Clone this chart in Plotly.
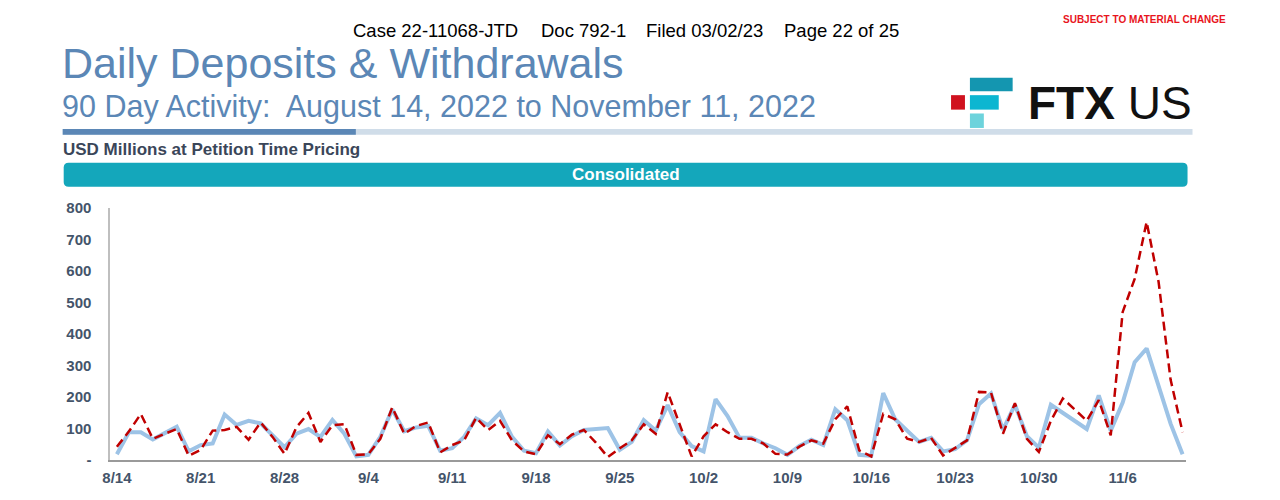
import pandas as pd
import plotly.graph_objects as go

# 90 days, 8/14/2022 .. 11/11/2022
dates = pd.date_range('2022-08-14', periods=90, freq='D')

deposits = [
    18, 88, 88, 65, 85, 105, 27, 47, 52, 144,
    111, 124, 116, 78, 40, 83, 98, 73, 127, 83,
    11, 16, 73, 160, 91, 103, 108, 29, 37, 73,
    132, 110, 149, 73, 29, 21, 90, 46, 75, 95,
    98, 101, 32, 57, 126, 93, 174, 88, 44, 27,
    193, 139, 70, 70, 52, 37, 16, 44, 64, 47,
    161, 126, 16, 13, 212, 129, 93, 57, 70, 27,
    34, 62, 177, 211, 95, 175, 75, 39, 175, 149,
    126, 98, 205, 93, 182, 310, 354, 236, 115, 18,
]

withdrawals = [
    42, 90, 146, 67, 83, 98, 13, 32, 93, 95,
    105, 64, 119, 73, 19, 104, 149, 57, 110, 113,
    16, 18, 67, 167, 83, 108, 119, 24, 47, 62,
    134, 95, 124, 62, 27, 18, 78, 50, 80, 95,
    55, 9, 37, 62, 113, 83, 215, 110, 11, 75,
    113, 88, 67, 67, 52, 19, 17, 42, 62, 52,
    129, 170, 30, 11, 146, 129, 67, 57, 70, 14,
    37, 62, 216, 214, 83, 180, 67, 25, 124, 195,
    160, 124, 190, 78, 470, 575, 756, 565, 255, 88,
]

y_ticks = [0, 100, 200, 300, 400, 500, 600, 700, 800]
y_tick_text = ['-', '100', '200', '300', '400', '500', '600', '700', '800']
x_ticks = dates[::7]

# page keeps the browser's 8px body margin, so the figure is sized to fit
# the 1280x500 window exactly and all positions below are window pixels
PAGE_MARGIN = 8
W, H = 1280 - 2 * PAGE_MARGIN, 500 - 2 * PAGE_MARGIN
FONT = 'Arial, Liberation Sans, sans-serif'
SLATE = '#44546a'
STEEL = '#5b87b6'


def px(x):
    return (x - PAGE_MARGIN) / W


def py(y):
    return 1 - (y - PAGE_MARGIN) / H


def rounded_rect(x0, y0, x1, y1, r):
    """SVG path of a rounded rectangle, pixel coords in, paper coords out."""
    pts = [
        f'M {px(x0 + r)},{py(y0)}',
        f'L {px(x1 - r)},{py(y0)}',
        f'Q {px(x1)},{py(y0)} {px(x1)},{py(y0 + r)}',
        f'L {px(x1)},{py(y1 - r)}',
        f'Q {px(x1)},{py(y1)} {px(x1 - r)},{py(y1)}',
        f'L {px(x0 + r)},{py(y1)}',
        f'Q {px(x0)},{py(y1)} {px(x0)},{py(y1 - r)}',
        f'L {px(x0)},{py(y0 + r)}',
        f'Q {px(x0)},{py(y0)} {px(x0 + r)},{py(y0)}',
        'Z',
    ]
    return ' '.join(pts)


def box(x0, y0, x1, y1, color):
    return dict(type='rect', xref='paper', yref='paper',
                x0=px(x0), x1=px(x1), y0=py(y1), y1=py(y0),
                fillcolor=color, line_width=0, layer='above')


fig = go.Figure()

fig.add_trace(go.Scatter(
    x=dates, y=deposits, mode='lines', name='Deposits',
    line=dict(color='#9dc3e6', width=4),
))
fig.add_trace(go.Scatter(
    x=dates, y=withdrawals, mode='lines', name='Withdrawals',
    line=dict(color='#c00000', width=2.5, dash='9px,5px'),
))

shapes = [
    # header rule
    box(55, 124, 1192, 130, '#d0dde9'),
    box(55, 124, 350, 130, STEEL),
    # logo blocks
    box(949, 89, 963, 104, '#d0121f'),
    box(968, 71, 1011, 85, '#1496b0'),
    box(968, 89, 997, 104, '#0cb6d1'),
    box(968, 108, 982, 123, '#6dd3dc'),
    # section banner
    dict(type='path', xref='paper', yref='paper',
         path=rounded_rect(56, 159, 1187, 184, 5),
         fillcolor='#14a7bb', line_width=0, layer='below'),
]

annos = []


def text(x, y, s, size, color='#000000', anchor='left', bold=False):
    annos.append(dict(
        x=px(x), y=py(y), xref='paper', yref='paper', text=f'<b>{s}</b>' if bold else s,
        showarrow=False, xanchor=anchor, yanchor='middle',
        font=dict(family=FONT, size=size, color=color),
    ))


text(345, 22, 'Case 22-11068-JTD', 18.5)
text(534, 22, 'Doc 792-1', 18.5)
text(640, 22, 'Filed 03/02/23', 18.5)
text(779, 22, 'Page 22 of 25', 18.5)
text(1228, 11, 'SUBJECT TO MATERIAL CHANGE', 10, '#e8141c', anchor='right', bold=True)
text(52, 56, 'Daily Deposits &amp; Withdrawals', 43, STEEL)
text(52, 101, '90 Day Activity:  August 14, 2022 to November 11, 2022', 30.5, STEEL)
text(53, 145, 'USD Millions at Petition Time Pricing', 17, '#3a4659', bold=True)
text(622, 171, 'Consolidated', 17, '#ffffff', anchor='center', bold=True)
text(1024, 97, '<b>FTX</b> US', 46, '#111111')

fig.update_layout(
    width=W, height=H,
    margin=dict(l=0, r=0, t=0, b=0),
    paper_bgcolor='white', plot_bgcolor='white',
    showlegend=False,
    font=dict(family=FONT),
    shapes=shapes,
    annotations=annos,
    xaxis=dict(
        domain=[px(103), px(1185)],
        range=['2022-08-13 11:00', '2022-11-11 06:00'],
        tickvals=x_ticks, tickformat='%-m/%-d',
        showgrid=False, zeroline=False,
        showline=True, linecolor='#9a9a9a', linewidth=2,
        ticks='outside', ticklen=3, tickcolor='rgba(0,0,0,0)',
        tickfont=dict(family=FONT, size=15, color=SLATE, weight='bold'),
    ),
    yaxis=dict(
        domain=[py(467), py(206)],
        range=[0, 800],
        tickvals=y_ticks, ticktext=y_tick_text,
        showgrid=False, zeroline=False,
        showline=True, linecolor='#bfbfbf', linewidth=2,
        ticks='outside', ticklen=14, tickcolor='rgba(0,0,0,0)',
        tickfont=dict(family=FONT, size=15, color=SLATE, weight='bold'),
    ),
)

fig.write_html('out.html', config={'displayModeBar': False})
